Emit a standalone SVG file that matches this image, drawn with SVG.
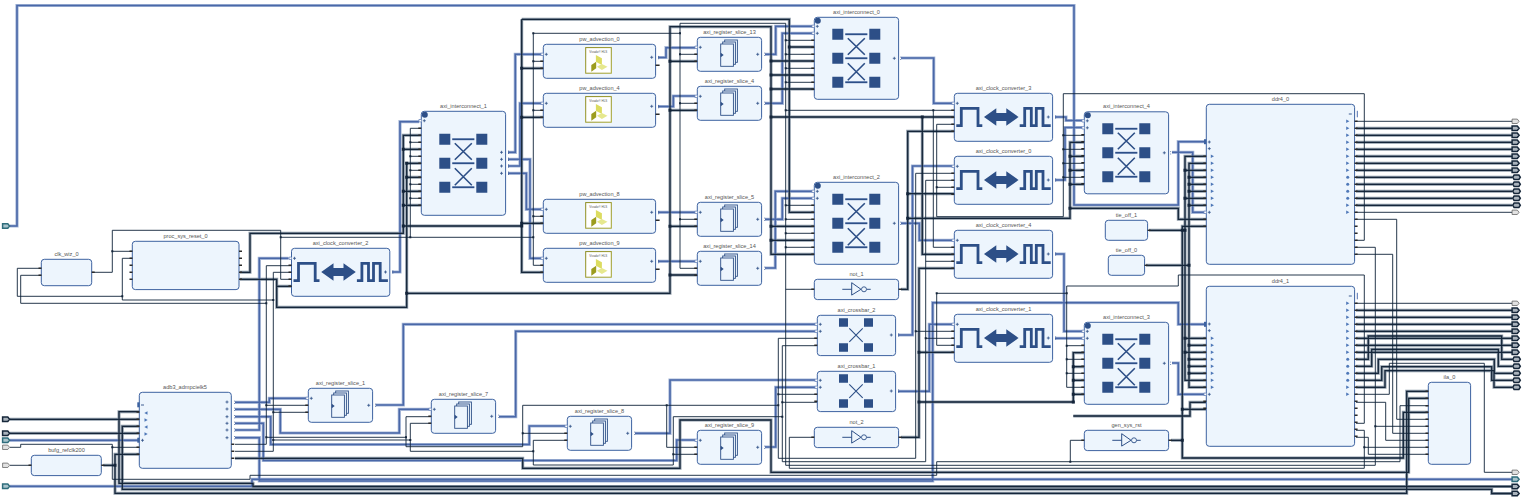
<svg xmlns="http://www.w3.org/2000/svg" width="1523" height="499" viewBox="0 0 1523 499">
<style>
text{font-family:"Liberation Sans",Arial,sans-serif;font-size:5.6px;fill:#555;text-anchor:middle}
.blk{fill:#edf5fd;stroke:#3d62a0;stroke-width:1}
.n,.bh,.bc,.ih,.ic{fill:none;stroke-linejoin:miter}
.n{stroke:#0f2238;stroke-width:.9}
.bh{stroke:#8d9aa8;stroke-width:3}
.bc{stroke:#15263a;stroke-width:1.3}
.ih{stroke:#a6b7d8;stroke-width:3.2}
.ic{stroke:#4a68a8;stroke-width:1.6}
.dot{fill:none;stroke:#14253a;stroke-width:3;stroke-linecap:square}
.dot2{fill:none;stroke:#14253a;stroke-width:2;stroke-linecap:square}
.st{fill:none;stroke:#2a2a2a;stroke-width:1.4}
.icon{fill:#2d4f87;stroke:none}
.il3{fill:none;stroke:#2d4f87;stroke-width:2.8}
</style>
<defs>
<path id="pl" d="M-1.5 0h3M0-1.5v3" fill="none" stroke="#2d4f87" stroke-width=".8"/>
<path id="mi" d="M-1.5 0h3" fill="none" stroke="#2d4f87" stroke-width=".9"/>
<path id="tr" d="M-1.5-1.7L1.7 0L-1.5 1.7z" fill="#4f78b8"/>
<circle id="ro" r="1.5" fill="#4f78b8"/>
<path id="ipl" d="M0-1.2h-2.4v2.4h2.4" fill="#fff" stroke="#5a78b5" stroke-width=".7"/>
<path id="ipr" d="M0-1.2h.8M0 1.2h.8" fill="none" stroke="#2d4f87" stroke-width=".8"/>
<path id="po" d="M-3.4-2.2H1.8L3.6 0L1.8 2.2H-3.4z" fill="#e2e2e2" stroke="#555" stroke-width=".7"/>
<path id="pb" d="M-3.4-2.2H1.8L3.6 0L1.8 2.2H-3.4z" fill="#aab3bc" stroke="#16273a" stroke-width="1.5"/>
<path id="pr" d="M-2.4-2.2H2.4L3.8 0L2.4 2.2H-2.4L-3.8 0z" fill="#aab3bc" stroke="#16273a" stroke-width="1.5"/>
<path id="pt" d="M-3.4-2.2H1.8L3.6 0L1.8 2.2H-3.4z" fill="#a9c4cc" stroke="#2f6d7c" stroke-width="1.5"/>
<g id="xicon">
<path class="icon" d="M-24.5-29.5h11v11h-11zM12.5-29.5h11v11h-11zM-24.5-5.5h11v11h-11zM12.5-5.5h11v11h-11zM-24.5 18.5h11v11h-11zM12.5 18.5h11v11h-11z"/>
<path d="M-11.5-24h22M-11.5 0h22M-11.5 24h22" fill="none" stroke="#a9bcdc" stroke-width="2.4"/>
<path d="M-11.5-24h22M-11.5 0h22M-11.5 24h22M-9-20L8-3.5M8-20L-9-3.5M-9 5L8 22M8 5L-9 22" fill="none" stroke="#2d4f87" stroke-width="1.6"/>
</g>
<g id="ic8">
<rect class="blk" width="84.3" height="82" rx="3"/>
<circle cx="3.5" cy="3.5" r="3" fill="#2d4f87"/>
<use href="#ipl" x="0" y="9"/><use href="#ipl" x="0" y="16"/>
<use href="#pl" x="3" y="9"/><use href="#pl" x="3" y="16"/>
<use href="#pl" x="80" y="41"/><use href="#ipr" x="86" y="41"/>
<use href="#xicon" x="42.5" y="41"/>
<path class="st" d="M-3 23h3M-3 30h3M-3 37h3M-3 44h3M-3 51h3M-3 58h3M-3 65h3M-3 72h3"/>
</g>
<g id="cc">
<rect class="blk" width="98.3" height="48" rx="3"/>
<use href="#ipl" y="10"/><use href="#pl" x="3" y="10"/><use href="#pl" x="94" y="23.7"/><use href="#ipr" x="101" y="23.7"/>
<path class="il3" d="M2 32.4H7V15H23.7V32.4H28M65.4 32.4H70.4V15H77V32.4H82V15H88.7V32.4H96.4"/>
<path class="icon" d="M29.7 23.7L42 15V19.7H52V15L64.3 23.7L52 32.4V27.7H42V32.4z"/>
<path class="st" d="M-3 17h3M-3 24h3M-3 31h3M-3 38h3"/>
</g>
<g id="sl">
<rect class="blk" width="64.3" height="34" rx="3"/>
<use href="#ipl" y="10"/><use href="#pl" x="3" y="10"/><use href="#pl" x="60.4" y="17"/><use href="#ipr" x="67" y="17"/>
<g fill="#edf5fd" stroke="#2d4f87" stroke-width=".9"><rect x="27.4" y="2.7" width="12.7" height="22.3"/><rect x="25.4" y="4.7" width="12.7" height="22.3"/><rect x="23.4" y="6.7" width="12.7" height="22.3"/></g>
<path class="icon" d="M23.4 15.5L26.4 17.8L23.4 20z"/>
<path class="st" d="M-3 17h3M-3 24h3"/>
</g>
<linearGradient id="og" x1="0" y1="0" x2="1" y2="1"><stop offset="0" stop-color="#8b8a1e"/><stop offset="1" stop-color="#a5a42e"/></linearGradient>
<g id="pw">
<rect class="blk" width="112.3" height="34" rx="3"/>
<use href="#ipl" y="10"/><use href="#pl" x="3" y="10"/><use href="#pl" x="108.4" y="13"/><use href="#ipr" x="115" y="13.3"/>
<rect x="42.4" y="3.3" width="25.6" height="25.6" fill="#fff" stroke="url(#og)" stroke-width="1"/>
<text x="55" y="8.5" style="font-size:3px">Vivado® HLS</text>
<path fill="#9c9c1e" d="M48 20.7L52.9 17.4V24L48 27.4z"/>
<path fill="#dcdc60" d="M52.6 10.7L58.6 14V20.7L52.6 17.4z"/>
<path fill="#e6e88e" d="M53.6 22.4L58.6 19.7L64.2 22.4L58.6 25.7z"/>
<path class="st" d="M-3 17h3M-3 24h3M112.3 21h4"/>
</g>
<g id="xb">
<rect class="blk" width="78.3" height="40.3" rx="3"/>
<use href="#ipl" y="9"/><use href="#ipl" y="16"/><use href="#pl" x="3" y="9"/><use href="#pl" x="3" y="16"/><use href="#pl" x="74" y="19.7"/><use href="#ipr" x="81" y="19.7"/>
<path class="icon" d="M21.7 3h9v8.5h-9zM46.7 3h9v8.5h-9zM21.7 28h9v8.5h-9zM46.7 28h9v8.5h-9z"/>
<path d="M32 13L45.400 26.500M45.400 13L32 26.500" fill="none" stroke="#2d4f87" stroke-width="1.100"/>
<path class="st" d="M-3 23h3M-3 30h3"/>
</g>
<g id="nt">
<rect class="blk" width="84.3" height="20.3" rx="3"/>
<path d="M28 10h9.400M37.400 3.400L46.700 10L37.400 15.800zM52.400 10h4" fill="none" stroke="#2d4f87" stroke-width="1"/>
<circle cx="49.700" cy="10" r="2.500" fill="none" stroke="#2d4f87" stroke-width=".9"/>
<path class="st" d="M-3 10h3M84.300 10h3"/>
</g>
<g id="ddr">
<rect class="blk" width="148.3" height="160" rx="3"/>
<use href="#mi" x="144" y="9.700"/><path d="M151 6.500v6.500" stroke="#4f6fb0" stroke-width="1"/>
<use href="#pl" x="3" y="37.700"/><use href="#pl" x="3" y="44.300"/><use href="#pl" x="3" y="108"/>
<use href="#tr" x="6" y="52"/><use href="#tr" x="6" y="59"/><use href="#tr" x="6" y="66"/><use href="#tr" x="6" y="73"/><use href="#tr" x="6" y="80"/><use href="#tr" x="6" y="87"/><use href="#tr" x="6" y="94"/><use href="#tr" x="6" y="101"/>
<use href="#tr" x="141.400" y="17"/><use href="#tr" x="141.400" y="24"/><use href="#tr" x="141.400" y="31"/><use href="#tr" x="141.400" y="38"/><use href="#tr" x="141.400" y="45"/><use href="#tr" x="141.400" y="52"/><use href="#tr" x="141.400" y="59"/><use href="#tr" x="141.400" y="66"/>
<use href="#ro" x="141.400" y="73"/><use href="#ro" x="141.400" y="80"/><use href="#ro" x="141.400" y="87"/><use href="#ro" x="141.400" y="94"/>
<use href="#tr" x="141.400" y="101"/><use href="#tr" x="141.400" y="108"/>
<path class="st" d="M148.300 115h3M148.300 122h3M148.300 129h3M148.300 136h3M148.300 143h3M148.300 150h3M-3 52h3M-3 59h3M-3 66h3M-3 73h3M-3 80h3M-3 87h3M-3 94h3M-3 101h3M-3 115h3M-3 122h3M148.300 17h3M148.300 24h3M148.300 31h3M148.300 38h3M148.300 45h3M148.300 52h3M148.300 59h3M148.300 66h3M148.300 73h3M148.300 80h3M148.300 87h3M148.300 94h3M148.300 101h3M148.300 108h3"/>
</g>
<g id="wb">
<path d="M240 272.300H250V233.300H403.300V135.300H421M403.300 149.300H421M403.300 191.300H421M403.300 205.300H421M403.300 226H521.700M521.700 19.300V272.300H543M521.700 68.300H543M521.700 117.300H543M521.700 223.300H543M521.700 19.300H789.300V212.300H814M789.300 47H814"/>
<path d="M240 279.300H276.700V286.300H291M276.700 286.300V307.300H406.700V163.300H421M406.700 177.300H421M406.700 293.300H670V26.700H771V254.300H814M670 61.300H697M670 110.300H697M670 226.300H697M670 275H697M771 61H814M771 75H814M771 89H814M771 117H954M771 226.300H814M771 240.300H814M922.300 117V254.300H954"/>
<path d="M901 289.300H907.700V131.300H954M907.700 193.700H954M907.700 218.300H1070V142.300H1084M1070 156.300H1084M1070 170.300H1084M1070 184.300H1084M1070 208.300H1178.300V219.300H1206"/>
<path d="M901 437.300H919V268.300H954M919 352.300H954M919 402H1073.300V352.700H1084M1073.300 366.700H1084M1073.300 380.300H1084M1073.300 394.300H1084M1073.300 416H1190V402.300H1206"/>
<path d="M1171 440.300H1182.300M1206 226.300H1182.300V458H1403.300V412.300H1428M1182.300 409.300H1206M1149 230.300H1185M1146 265.300H1189"/>
<path d="M1206 156.300H1185V380.300H1206M1185 170.300H1206M1185 198.300H1206M1185 338.300H1206M1185 352.300H1206M1206 163.300H1189V387.300H1206M1189 177.300H1206M1189 184.300H1206M1189 191.300H1206M1189 205.300H1206M1189 345.300H1206M1189 359.300H1206M1189 366.300H1206M1189 373.300H1206"/>
<path d="M10 419.300H139M10 433.300H139M139 411.700H119V483.300H253V486.500H1512M139 426.300H122.300V489.300H1491.700V493.500H1512M139 454.300H115V493.300H1406.700V391.300H1428M103.300 465.300H115M235 458.300H522.700V468.300H680V420H771V472.300H1408.700V398.300H1428"/>
<path d="M1356 128.300H1512M1356 135.300H1512M1356 142.300H1512M1356 149.300H1512M1356 156.300H1512M1356 163.300H1512M1356 170.300H1512M1356 177.300H1512M1356 184.300H1512M1356 191.300H1512M1356 198.300H1512M1356 205.300H1512"/>
<path d="M1356 310.300H1512M1356 317.300H1512M1356 324.300H1512M1356 331.300H1512M1356 338.300H1512M1356 345.300H1512M1356 352.300H1512M1356 359.300H1368.300V336H1501.700V359.300H1512M1356 366.300H1371.700V349.300H1498.300V366.300H1512M1356 373.300H1378.300V359.300H1494.300V373.300H1512M1356 380.300H1381.700V366.700H1491.700V380.300H1512M1356 387.300H1385V370.700H1494V387.300H1512"/>
</g>
<g id="wi">
<path d="M10 226H17V5.500H1074V205H1178.300V141.700H1205"/>
<path d="M10 440.300H138M10 486.300H252V479.300H1512"/>
<path d="M235 402.300H269.300V398.300H306M235 409.300H280.300V433H399.300V409.300H429M235 416.700H270.700V444.500H529.300V426H565M235 423.300H263.300V460.500H676.700V440H695M235 430H259.300V258.300H288.500M235 437.700H259.300V481H932.700V302.700H1178.300V324.300H1205"/>
<path d="M375.700 405H403.300V324.300H815M499 416.700H515.700V331.300H815M635 433.300H670V380H815M765 447H775.700V387.300H815"/>
<path d="M898 335H912.500V166H952M898 391.300H929.300V324.300H952M392 272H400V121.700H419"/>
<path d="M508 152.300H515.300V54.300H541M508 159.300H530V258.300H541M508 166H520V103.300H541M508 173.300H526.300V209.300H541"/>
<path d="M658 57.500H666V47.700H695M658 106.500H673.300V96H695M658 212.300H695M658 261.300H695"/>
<path d="M765 54.300H775.700V26.300H812M765 103.300H782.300V33.300H812M765 219.300H782.300V198.300H812M765 268H775.300V191.300H812"/>
<path d="M901 58H933.700V103.300H952M901 223.300H919.300V240.300H952M1055 117H1066V120.500H1082M1055 180H1065V127.500H1082M1055 254H1064V331.300H1082M1055 338.300H1082"/>
<path d="M1172 152.300H1192.700V212.300H1205M1172 363H1178.300V394.300H1205"/>
</g>
</defs>
<rect width="1523" height="499" fill="#fff"/>
<g id="connectors">
<use href="#wi" class="ih"/>
<use href="#wb" class="bh"/>
<use href="#wi" class="ic"/>
<use href="#wb" class="bc"/>
<path class="n" d="M92 272.300H112.300V230.300H280.700V279.300H291M112.300 251.300H132M280.700 237.300H533.300M421 128.300H410.300V237.300M410.300 142.300H421M410.300 156.300H421M410.300 170.300H421M410.300 184.300H421M410.300 198.300H421M533.300 33.300V265.300H543M533.300 61.300H543M533.300 110.300H543M533.300 216.300H543M533.300 33.300H680M680 23.300V268.300H697M680 54.300H697M680 103.300H697M680 219.300H697M680 23.300H785.700V465.300H1375.300V247.300H1356M785.700 40.300H814M785.700 54.300H814M785.700 68.300H814M785.700 82.300H814M785.700 110.300H954M933.300 110.300V247.300H954M785.700 205.300H814M785.700 219.300H814M785.700 233.300H814M785.700 247.300H814M785.700 289.300H814M1375.300 426.300H1428"/>
<path class="n" d="M1356 240.300H1364.300V93.700H1063.300V216.700H936.700V124.300H954M936.700 187.300H954M1063.300 135.300H1084M1063.300 149.300H1084M1063.300 163.300H1084M1063.300 177.300H1084"/>
<path class="n" d="M1356 423.300H1364.300V275H1178.300V286H1066.700V387.300H1084M1066.700 345.700H1084M1066.700 359.300H1084M1066.700 373.300H1084M1066.700 293.300H936.700V345.300H954"/>
<path class="n" d="M235 444.300H266.300V265.700H291M266.300 303.300H20.700V275.300H41M266.300 405.300H308M266.300 437.300H406V416.700H431M406 437.300V446.700H522.700V405.300H778.300M522.700 433.300H567M666.700 405.300V447.300H697M778.300 338.300V458.300H915.700V173.300H954M778.300 394.300H817M778.300 338.300H817M915.700 331.300H954"/>
<path class="n" d="M235 451.300H273.300V272.300H291M273.300 300H122.300V258.300H132M122.300 296.300H17.300V268.300H41M273.300 412.300H308M273.300 440H410.300V423.300H431M410.300 440V451.300H533.300V440.300H567M533.300 451.300V465H673.300V416.700H782.300M673.300 454.300H697M782.300 345.700V461.700H925.700V180.300H954M782.300 345.700H817M782.300 402.300H817M925.700 261.300H954M925.700 338.300H954"/>
<path class="n" d="M10 447.300H20.700V444.300H112.300V479.300H250V475.300H936.700V461.700H1400V405.700H1428M112.300 447.300H139M1070.300 461.700V440.300H1084M10 465.300H31"/>
<path class="n" d="M814 437.300H789.300V468.300H1364.300V430.300H1356M1364.300 447.300H1428"/>
<path class="n" d="M1356 219.300H1396.700V419.300H1428M1356 254.300H1392.700V433.300H1428M1356 402.300H1385.700V440.300H1428M1356 437.300H1368.300V454.300H1428M1356 394.300H1389.300V363.300H1484.300V472.300H1512M1356 121.300H1512M1356 212.300H1512M1356 303.300H1512"/>
<path class="dot2" d="M112.300 251.300h0M280.700 237.300h0M410.300 142.300h0M410.300 156.300h0M410.300 170.300h0M410.300 184.300h0M410.300 198.300h0M410.300 237.300h0M533.300 61.300h0M533.300 110.300h0M533.300 216.300h0M533.300 237.300h0M533.300 33.300h0M680 33.300h0M680 54.300h0M680 103.300h0M680 219.300h0M785.700 40.300h0M785.700 54.300h0M785.700 68.300h0M785.700 82.300h0M785.700 110.300h0M785.700 205.300h0M785.700 219.300h0M785.700 233.300h0M785.700 247.300h0M933.300 110.300h0M1375.300 426.300h0M936.700 187.300h0M1063.300 135.300h0M1063.300 149.300h0M1063.300 163.300h0M1063.300 177.300h0M1066.700 345.700h0M1066.700 359.300h0M1066.700 373.300h0M1066.700 293.300h0M936.700 293.300h0M266.300 303.300h0M266.300 405.300h0M266.300 437.300h0M406 437.300h0M522.700 433.300h0M666.700 405.300h0M778.300 394.300h0M778.300 405.300h0M915.700 331.300h0M273.300 300h0M122.300 296.300h0M273.300 412.300h0M273.300 440h0M410.300 440h0M533.300 451.300h0M673.300 454.300h0M782.300 402.300h0M782.300 416.700h0M925.700 338.300h0M112.300 447.300h0M1070.300 461.700h0M1364.300 447.300h0"/>
<path class="dot" d="M403.300 149.300h0M403.300 191.300h0M403.300 205.300h0M403.300 226h0M406.700 163.300h0M406.700 177.300h0M406.700 293.300h0M521.700 68.300h0M521.700 117.300h0M521.700 223.300h0M521.700 226h0M670 61.300h0M670 110.300h0M670 226.300h0M670 275h0M771 61h0M771 75h0M771 89h0M771 117h0M771 226.300h0M771 240.300h0M789.300 47h0M922.300 117h0M907.700 193.700h0M907.700 218.300h0M1070 156.300h0M1070 170.300h0M1070 184.300h0M1070 208.300h0M919 352.300h0M919 402h0M1073.300 366.700h0M1073.300 380.300h0M1073.300 394.300h0M1073.300 402h0M1182.300 230.300h0M1182.300 409.300h0M1182.300 440.300h0M1185 170.300h0M1185 198.300h0M1185 338.300h0M1185 352.300h0M1189 177.300h0M1189 184.300h0M1189 191.300h0M1189 205.300h0M1189 345.300h0M1189 359.300h0M1189 366.300h0M1189 373.300h0M1185 230.300h0M1189 265.300h0M115 465.300h0"/>
</g>
<g id="ports">
<use href="#pt" x="6" y="226"/><use href="#pb" x="6" y="419.300"/><use href="#pb" x="6" y="433.300"/><use href="#pt" x="6" y="440.300"/><use href="#po" x="6" y="447.300"/><use href="#po" x="6" y="465.300"/><use href="#pt" x="6" y="486.300"/>
<use href="#po" x="1515.500" y="121.300"/><use href="#pb" x="1515.500" y="128.300"/><use href="#pb" x="1515.500" y="135.300"/><use href="#pb" x="1515.500" y="142.300"/><use href="#pb" x="1515.500" y="149.300"/><use href="#pb" x="1515.500" y="156.300"/><use href="#pb" x="1515.500" y="163.300"/><use href="#pb" x="1515.500" y="170.300"/><use href="#pr" x="1516.500" y="177.300"/><use href="#pr" x="1516.500" y="184.300"/><use href="#pr" x="1516.500" y="191.300"/><use href="#pr" x="1516.500" y="198.300"/><use href="#pr" x="1516.500" y="205.300"/><use href="#po" x="1515.500" y="212.300"/>
<use href="#po" x="1515.500" y="303.300"/><use href="#pb" x="1515.500" y="310.300"/><use href="#pb" x="1515.500" y="317.300"/><use href="#pb" x="1515.500" y="324.300"/><use href="#pb" x="1515.500" y="331.300"/><use href="#pb" x="1515.500" y="338.300"/><use href="#pb" x="1515.500" y="345.300"/><use href="#pb" x="1515.500" y="352.300"/><use href="#pr" x="1516.500" y="359.300"/><use href="#pr" x="1516.500" y="366.300"/><use href="#pr" x="1516.500" y="373.300"/><use href="#pr" x="1516.500" y="380.300"/><use href="#pr" x="1516.500" y="387.300"/>
<use href="#po" x="1515.500" y="472.300"/><use href="#pt" x="1515.500" y="479.300"/><use href="#pb" x="1515.500" y="486.500"/><use href="#pb" x="1515.500" y="493.500"/>
</g>
<g id="clk_wiz_0"><rect class="blk" x="41.300" y="259.300" width="50.400" height="26.400" rx="3"/><text x="66.500" y="256.200">clk_wiz_0</text><path class="st" d="M38.500 268.300h3M38.500 275.300h3M91.700 272.300h3"/></g>
<g id="proc_sys_reset_0"><rect class="blk" x="132.300" y="241.300" width="106.700" height="48.300" rx="3"/><text x="185.500" y="238.200">proc_sys_reset_0</text><path class="st" d="M129.500 251.300h3M129.500 258.300h3M129.500 265.300h3M129.500 272.300h3M129.500 279.300h3M239 251.300h3M239 258.300h3M239 265.300h3M239 272.300h3M239 279.300h3"/></g>
<g id="axi_clock_converter_2"><use href="#cc" x="291.500" y="248.300"/><path class="st" d="M288.500 286.300h3"/><text x="340.500" y="245.200">axi_clock_converter_2</text></g>
<g id="adb3_admpcielk5"><rect class="blk" x="139.300" y="392.300" width="92" height="76" rx="3"/><text x="185" y="389.200">adb3_admpcielk5</text>
<rect x="137.300" y="402.300" width="2.300" height="5" fill="#3d62a0"/><rect x="137.300" y="437.700" width="2.300" height="5" fill="#3d62a0"/>
<use href="#mi" x="142.500" y="405"/><use href="#pl" x="142.500" y="440.300"/><use href="#tr" x="146" y="413" transform="rotate(180 146 413)"/><use href="#tr" x="146" y="420"/><use href="#tr" x="146" y="427" transform="rotate(180 146 427)"/><use href="#tr" x="146" y="434"/>
<use href="#pl" x="227" y="402"/><use href="#pl" x="227" y="409"/><use href="#pl" x="227" y="416.700"/><use href="#pl" x="227" y="423.300"/><use href="#pl" x="227" y="430"/><use href="#pl" x="227" y="437.700"/>
<use href="#ipr" x="234" y="402.300"/><use href="#ipr" x="234" y="409.300"/><use href="#ipr" x="234" y="416.700"/><use href="#ipr" x="234" y="423.300"/><use href="#ipr" x="234" y="430"/><use href="#ipr" x="234" y="437.700"/>
<path class="st" d="M136.500 412h3M136.500 419.300h3M136.500 426.300h3M136.500 433.300h3M136.500 447.300h3M136.500 454.300h3M231.300 444.300h3M231.300 451.300h3M231.300 458.300h3"/></g>
<g id="bufg_refclk200"><rect class="blk" x="31.300" y="455.300" width="70" height="20.300" rx="3"/><text x="66.500" y="452.200">bufg_refclk200</text><path class="st" d="M28.500 465.300h3M101.300 465.300h3"/></g>
<g id="axi_register_slice_1"><use href="#sl" x="308.300" y="388.300"/><text x="340.500" y="385.200">axi_register_slice_1</text></g>
<g id="axi_register_slice_7"><use href="#sl" x="431.300" y="399.300"/><text x="463.500" y="396.200">axi_register_slice_7</text></g>
<g id="axi_register_slice_8"><use href="#sl" x="567.300" y="416.300"/><text x="599.500" y="413.200">axi_register_slice_8</text></g>
<g id="axi_register_slice_9"><use href="#sl" x="697.300" y="430.300"/><text x="729.500" y="427.200">axi_register_slice_9</text></g>
<g id="axi_register_slice_13"><use href="#sl" x="697.300" y="37.300"/><text x="729.500" y="34.200">axi_register_slice_13</text></g>
<g id="axi_register_slice_4"><use href="#sl" x="697.300" y="86.300"/><text x="729.500" y="83.200">axi_register_slice_4</text></g>
<g id="axi_register_slice_5"><use href="#sl" x="697.300" y="202.300"/><text x="729.500" y="199.200">axi_register_slice_5</text></g>
<g id="axi_register_slice_14"><use href="#sl" x="697.300" y="251.300"/><text x="729.500" y="248.200">axi_register_slice_14</text></g>
<g id="pw_advection_0"><use href="#pw" x="543.300" y="44.300"/><text x="599.500" y="41.200">pw_advection_0</text></g>
<g id="pw_advection_4"><use href="#pw" x="543.300" y="93.300"/><text x="599.500" y="90.200">pw_advection_4</text></g>
<g id="pw_advection_8"><use href="#pw" x="543.300" y="199.300"/><text x="599.500" y="196.200">pw_advection_8</text></g>
<g id="pw_advection_9"><use href="#pw" x="543.300" y="248.300"/><text x="599.500" y="245.200">pw_advection_9</text></g>
<g id="axi_interconnect_1"><rect class="blk" x="421.300" y="111.300" width="84.300" height="104" rx="3"/><circle cx="424.800" cy="114.800" r="3" fill="#2d4f87"/><use href="#ipl" x="421.300" y="120.700"/><use href="#pl" x="424.300" y="120.700"/><use href="#xicon" x="463.800" y="163.300"/><text x="463.500" y="108.200">axi_interconnect_1</text>
<use href="#pl" x="501.500" y="152.300"/><use href="#pl" x="501.500" y="159.300"/><use href="#pl" x="501.500" y="166"/><use href="#pl" x="501.500" y="173.300"/><use href="#ipr" x="508" y="152.300"/><use href="#ipr" x="508" y="159.300"/><use href="#ipr" x="508" y="166"/><use href="#ipr" x="508" y="173.300"/>
<path class="st" d="M418.300 128.300h3m-3 7h3m-3 7h3m-3 7h3m-3 7h3m-3 7h3m-3 7h3m-3 7h3m-3 7h3m-3 7h3m-3 7h3m-3 7h3"/></g>
<g id="axi_interconnect_0"><use href="#ic8" x="814.300" y="17.300"/><text x="856.500" y="14.200">axi_interconnect_0</text></g>
<g id="axi_interconnect_2"><use href="#ic8" x="814.300" y="182.300"/><text x="856.500" y="179.200">axi_interconnect_2</text></g>
<g id="axi_interconnect_4"><use href="#ic8" x="1084.300" y="111.800"/><text x="1126.500" y="108.200">axi_interconnect_4</text></g>
<g id="axi_interconnect_3"><use href="#ic8" x="1084.300" y="322.300"/><text x="1126.500" y="319.200">axi_interconnect_3</text></g>
<g id="axi_clock_converter_3"><use href="#cc" x="954.300" y="93.300"/><text x="1003.500" y="90.200">axi_clock_converter_3</text></g>
<g id="axi_clock_converter_0"><use href="#cc" x="954.300" y="156.300"/><text x="1003.500" y="153.200">axi_clock_converter_0</text></g>
<g id="axi_clock_converter_4"><use href="#cc" x="954.300" y="230.300"/><text x="1003.500" y="227.200">axi_clock_converter_4</text></g>
<g id="axi_clock_converter_1"><use href="#cc" x="954.300" y="314.300"/><text x="1003.500" y="311.200">axi_clock_converter_1</text></g>
<g id="not_1"><use href="#nt" x="814.300" y="279.300"/><text x="856.500" y="276.200">not_1</text></g>
<g id="not_2"><use href="#nt" x="814.300" y="427.300"/><text x="856.500" y="424.200">not_2</text></g>
<g id="gen_sys_rst"><use href="#nt" x="1084.300" y="430.300"/><text x="1126.500" y="427.200">gen_sys_rst</text></g>
<g id="axi_crossbar_2"><use href="#xb" x="817.300" y="315.300"/><text x="856.500" y="312.200">axi_crossbar_2</text></g>
<g id="axi_crossbar_1"><use href="#xb" x="817.300" y="371.300"/><text x="856.500" y="368.200">axi_crossbar_1</text></g>
<g id="tie_off_1"><rect class="blk" x="1105.300" y="220.300" width="42.300" height="20" rx="3"/><text x="1126.500" y="217.200">tie_off_1</text><path class="st" d="M1147.600 230.300h3"/></g>
<g id="tie_off_0"><rect class="blk" x="1108.300" y="255.300" width="36.300" height="20" rx="3"/><text x="1126.500" y="252.200">tie_off_0</text><path class="st" d="M1144.600 265.300h3"/></g>
<g id="ddr4_0"><use href="#ddr" x="1206.300" y="104.300"/><rect x="1204" y="139.200" width="2.300" height="5" fill="#3d62a0"/><use href="#ipl" x="1206.300" y="212.300"/><text x="1280.500" y="101.200">ddr4_0</text></g>
<g id="ddr4_1"><use href="#ddr" x="1206.300" y="286.300"/><rect x="1204" y="321.800" width="2.300" height="5" fill="#3d62a0"/><use href="#ipl" x="1206.300" y="394.300"/><text x="1280.500" y="283.200">ddr4_1</text></g>
<g id="ila_0"><rect class="blk" x="1428.300" y="382.300" width="42.300" height="82" rx="3"/><text x="1449.500" y="379.200">ila_0</text><path class="st" d="M1425.500 391.300h3M1425.500 398.300h3M1425.500 405.700h3M1425.500 412.300h3M1425.500 419.300h3M1425.500 426.300h3M1425.500 433.300h3M1425.500 440.300h3M1425.500 447.300h3M1425.500 454.300h3"/></g>
</svg>
